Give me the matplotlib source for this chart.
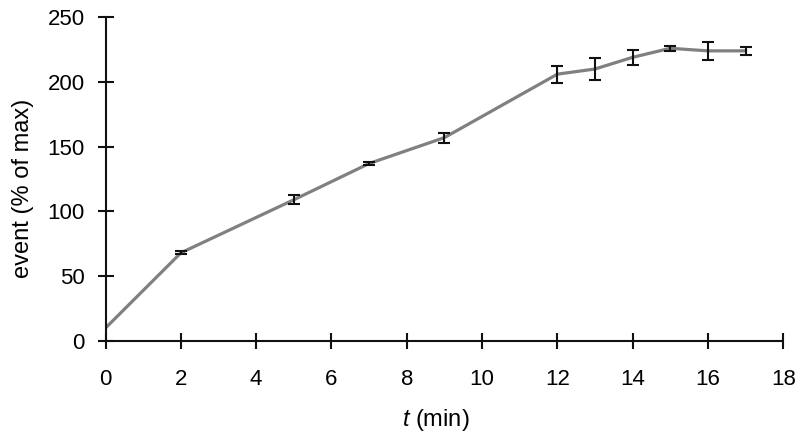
import numpy as np
import matplotlib.pyplot as plt

plt.rcParams['font.family'] = ['Liberation Sans', 'DejaVu Sans']
plt.rcParams['mathtext.fontset'] = 'custom'
plt.rcParams['mathtext.it'] = 'Liberation Sans:italic'

# time points (min) and event (% of max) with error
t_min = [0, 2, 5, 7, 9, 12, 13, 14, 15, 16, 17]
event = [10, 68, 109, 137, 157, 206, 210, 219, 226, 224, 224]
err = [0, 1.2, 3.6, 0.8, 3.9, 6.6, 8.2, 5.9, 1.8, 7.2, 3.0]

x_ticks = [0, 2, 4, 6, 8, 10, 12, 14, 16, 18]
y_ticks = [0, 50, 100, 150, 200, 250]

fig = plt.figure(figsize=(8, 4.41), dpi=100)
ax = fig.add_axes([0.132, 0.227, 0.847, 0.734])

ax.plot(t_min, event, color='#808080', lw=2.3, zorder=2)
# error bars only where there is spread
ax.errorbar(t_min[1:], event[1:], yerr=err[1:], fmt='none', ecolor='#111111',
            elinewidth=1.5, capsize=4.2, capthick=1.5, zorder=3)

ax.set_xlim(0, 18)
ax.set_ylim(0, 250)
ax.set_xticks(x_ticks)
ax.set_yticks(y_ticks)

for s in ['top', 'right']:
    ax.spines[s].set_visible(False)
for s in ['left', 'bottom']:
    ax.spines[s].set_linewidth(1.5)
    ax.spines[s].set_color('#111111')
ax.tick_params(direction='inout', length=12, width=1.5, color='#111111',
               labelsize=16)
ax.tick_params(axis='x', pad=14)
ax.tick_params(axis='y', pad=9)

ax.set_xlabel(r'$t$ (min)', fontsize=17)
ax.set_ylabel('event (% of max)', fontsize=17)
# labels sit a bit off-centre in the original
ax.xaxis.set_label_coords(0.487, -0.205)
ax.yaxis.set_label_coords(-0.106, 0.47)

fig.savefig('out.png', dpi=100)
